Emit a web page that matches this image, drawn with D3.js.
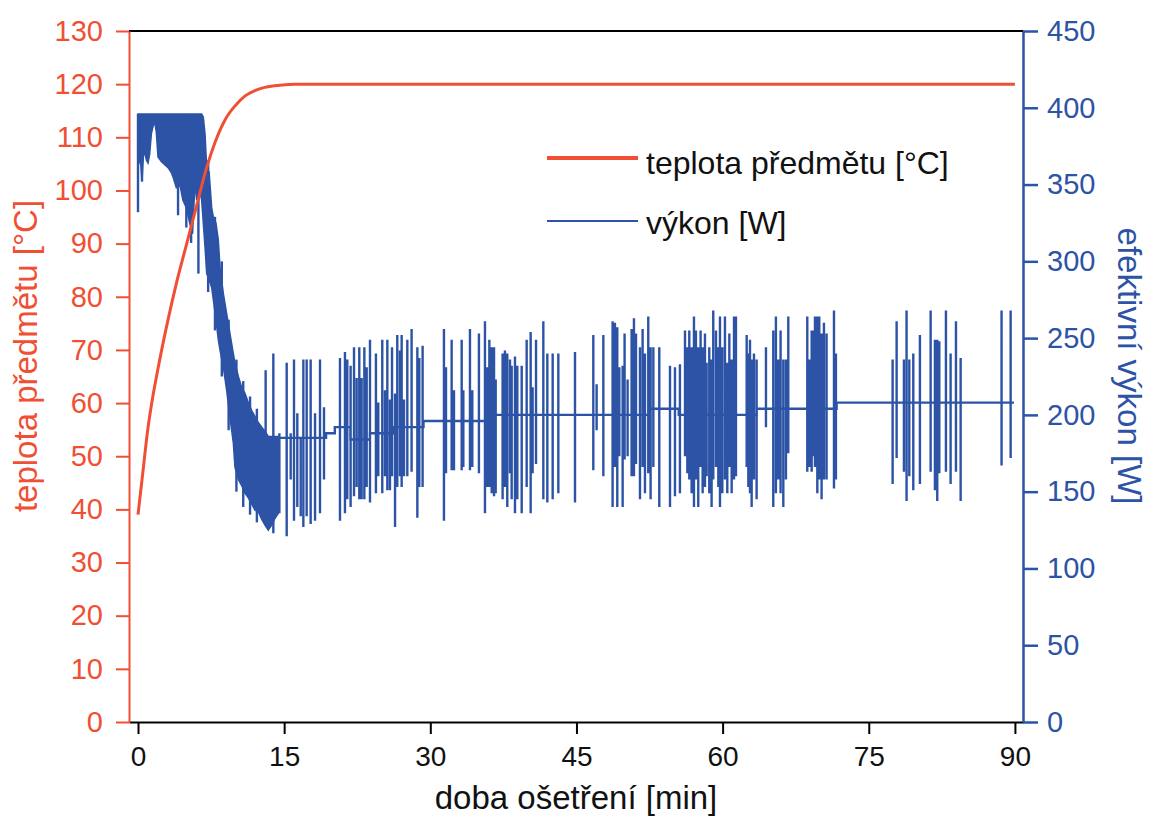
<!DOCTYPE html>
<html><head><meta charset="utf-8">
<script src="https://cdn.jsdelivr.net/npm/d3@7"></script>
<style>
body{margin:0;background:#fff;}
svg text{font-family:"Liberation Sans", Arial, Helvetica, sans-serif;}
</style></head><body>
<svg id="c" width="1153" height="819"></svg>
<script>
// ---------- data ----------
// x axis ticks
const xTicks = [0, 15, 30, 45, 60, 75, 90];
const yLTicks = [0,10,20,30,40,50,60,70,80,90,100,110,120,130];
const yRTicks = [0,50,100,150,200,250,300,350,400,450];

// temperature of the object [°C]
const tempT = [0, 0.5, 1.0, 1.5, 2.0, 3.0, 4.0, 5.0, 6.0, 7.0, 8.0, 9.0, 10.0, 11.0, 12.0, 13.0, 14.0, 16.0, 20.0, 90.0];
const tempV = [39, 47, 55, 61, 66, 75, 83, 90, 97, 104, 109.5, 113.5, 116, 117.8, 118.8, 119.4, 119.7, 120, 120, 120];

// power: dense oscillating band at the start (upper / lower envelope) [W]
const bandT  = [0,0.24,0.41,0.55,0.68,0.85,1.03,1.2,1.37,1.55,1.71,1.88,2.05,2.39,2.74,3.08,3.4,3.59,3.93,4.3,4.6,4.96,5.3,5.6,5.86,6.02,6.36,6.53,6.7,6.88,7.05,7.3,7.56,7.73,8.0,8.24,8.42,8.76,9.1,9.44,9.78,9.95,10.3,10.64,10.98,11.32,11.66,12.0,12.35,12.7,13.05,13.37,13.7,14.0,14.4];
const bandHi = [396,396,396,396,396,396,396,396,396,396,396,396,396,396,396,396,396,396,396,396,396,396,396,396,396,396,396,396,394,383,361,358,335,329,325,314,296,279,266,253,240,234,225,218,214,208,203,199,195,192,189,186,186,186,186];
const bandLo = [362,367,352,368,372,366,364,370,383,388,391,384,368,365,363,361,358,355,348,350,340,335,325,318,352,340,345,340,325,309,292,288,283,275,262,249,242,231,216,198,182,166,158,154,149,146,142,138,137,132,128,125,128,132,136];

// deep single lines inside the early band [t, hi, lo]
const earlyLines = [[0,396,332],[0.41,396,352],[4.11,396,330],[4.96,396,322],[5.45,396,312],[6.2,396,292],[7.2,366,280],[7.9,329,255],[8.6,300,225],[9.3,262,190],[10.1,236,150],[10.8,222,140],[11.5,212,135],[12.2,204,130]];

// base level steps of the regulated power [t start, W]
const stepT = [13.0, 19.3, 20.2, 21.8, 23.8, 26.2, 29.3, 35.8, 52.5, 55.5, 63.5, 71.7];
const stepV = [185, 188, 192, 184, 188, 192, 196, 200, 204, 200, 204, 208];
const powerEnd = 89.9;

// regulation spikes [t, hi, lo]
const powerSpikes = [
[13.1,229,130],[13.89,240,123],[14.51,188,136],[15.26,234,121],[15.67,188,158],[16.01,236,131],[16.35,201,140],[16.70,184,134],[16.97,236,127],[17.31,236,134],[17.72,236,129],[18.17,201,131],[18.68,236,136],[19.09,205,158],
[20.73,237,131],[21.24,241,136],[21.48,236,145],[21.82,232,140],[22.17,244,147],[22.44,224,153],[22.71,244,145],[22.95,224,145],[23.23,244,145],[23.47,231,153],[23.81,249,143],[24.42,240,149],[24.66,208,160],[25.07,249,149],[25.35,216,160],[25.59,249,151],[25.86,210,151],[26.07,244,160],[26.38,214,127],[26.61,252,153],[26.89,242,160],[27.06,252,153],[27.30,210,160],[27.64,249,160],[28.08,256,163],[28.67,244,133],[28.87,237,153],[29.21,245,153],
[31.40,256,131],[31.61,231,162],[32.19,249,164],[32.43,216,164],[33.22,249,164],[33.39,216,166],[34.07,256,164],[34.31,216,166],[34.99,253,162],[35.61,261,136],[35.85,231,153],[36.06,249,153],[36.30,244,149],[36.54,244,147],[36.71,223,149],[37.42,240,145],[37.66,242,153],[37.90,240,140],[38.18,236,162],[38.35,232,145],[38.69,238,136],[38.93,232,145],[39.38,232,136],[39.89,249,153],[40.30,254,136],[40.50,218,162],[40.85,249,168],[41.60,261,145],[42.01,240,143],[42.56,240,145],[43.14,240,149],[44.85,241,143],[46.73,252,164],[47.07,220,190],[47.76,252,160],[48.71,261,140],[48.95,260,166],[49.19,257,140],[49.40,231,173],[49.74,232,140],[49.94,253,171],[50.25,223,173],[50.66,256,160],[50.90,263,160],[51.11,253,168],[51.52,244,145],[51.79,256,166],[52.03,240,149],[52.37,264,162],[52.61,244,145],[52.89,244,166],[53.50,244,140],[54.60,232,140],[55.11,231,147],
[55.62,233,149],[56.14,255,173],[56.38,244,162],[56.58,255,158],[56.82,244,149],[57.06,264,140],[57.26,255,158],[57.50,244,140],[57.74,255,166],[57.95,244,149],[58.19,253,153],[58.36,234,160],[58.63,244,149],[58.87,236,140],[59.04,268,158],[59.32,255,166],[59.56,244,153],[59.73,264,140],[59.97,244,149],[60.24,264,158],[60.48,234,149],[60.69,253,166],[60.93,236,149],[61.17,264,158],[61.37,264,160],[62.47,252,166],[62.64,240,153],[62.81,249,149],[62.98,236,140],[63.22,240,158],[63.49,236,145],[64.45,244,192],[65.20,255,140],[65.47,264,149],[65.71,236,158],[65.95,255,149],[66.23,236,140],[66.50,236,158],[66.74,264,175],[68.69,264,163],[68.90,236,166],[69.14,255,163],[69.31,255,173],[69.48,264,166],[69.72,264,149],[69.92,264,158],[70.16,253,145],[70.40,260,158],[70.67,253,158],[71.43,268,152],[71.63,240,158],[77.45,236,155],[77.86,261,172],[78.61,236,163],[78.88,268,144],[79.16,236,160],[79.57,240,151],[80.25,252,155],[81.35,268,163],[81.79,249,151],[82.03,249,144],[82.24,248,162],[82.92,268,163],[83.40,240,155],[83.95,261,163],[84.43,237,144],[88.63,268,167],[89.56,268,172]
];

const legendLabels = ["teplota předmětu [°C]", "výkon [W]"];
const xTitle = "doba ošetření [min]";
const yLTitle = "teplota předmětu [°C]";
const yRTitle = "efektivní výkon [W]";

// ---------- drawing ----------
const RED = "#f04f33", BLUE = "#2c53a5";
const svg = d3.select("#c");
svg.append("rect").attr("width",1153).attr("height",819).attr("fill","#fff");
const M = {l:129, r:1023, t:31, b:722};
const x = d3.scaleLinear().domain([-0.924, 90.83]).range([M.l, M.r]);
const yL = d3.scaleLinear().domain([0,130]).range([M.b, M.t]);
const yR = d3.scaleLinear().domain([0,450]).range([M.b, M.t]);

// band
const band = bandT.map((t,i)=>({t, hi:bandHi[i], lo:bandLo[i]}));
svg.append("path").datum(band)
  .attr("d", d3.area().x(d=>x(d.t)).y0(d=>yR(d.lo)).y1(d=>yR(d.hi)))
  .attr("fill", BLUE).attr("stroke", BLUE).attr("stroke-width",1.5);

const seg = d3.line().x(d=>x(d[0])).y(d=>yR(d[1]));
earlyLines.forEach(s=>{
  svg.append("path").attr("d", seg([[s[0],s[1]],[s[0],s[2]]]))
    .attr("stroke", BLUE).attr("stroke-width",2.4).attr("fill","none");
});

// main power trace
const events = [];
stepT.forEach((t,i)=>{ if(i>0) events.push({t, kind:"step", v:stepV[i]}); });
powerSpikes.forEach(s=>events.push({t:s[0], kind:"spike", hi:s[1], lo:s[2]}));
events.sort((a,b)=>a.t-b.t);
let cur = stepV[0];
const pts = [[stepT[0], cur]];
events.forEach(e=>{
  if(e.kind==="step"){ pts.push([e.t,cur]); cur=e.v; pts.push([e.t,cur]); }
  else { pts.push([e.t,cur]); pts.push([e.t,e.hi]); pts.push([e.t,e.lo]); pts.push([e.t,cur]); }
});
pts.push([powerEnd, cur]);
svg.append("path").attr("d", seg(pts))
  .attr("stroke", BLUE).attr("stroke-width",2.4).attr("fill","none").attr("stroke-linejoin","miter").attr("stroke-miterlimit",2);

// temperature
const temp = tempT.map((t,i)=>[t, tempV[i]]);
svg.append("path").datum(temp)
  .attr("d", d3.line().x(d=>x(d[0])).y(d=>yL(d[1])).curve(d3.curveMonotoneX))
  .attr("stroke", RED).attr("stroke-width",3).attr("fill","none");

// frame top
svg.append("line").attr("x1",M.l).attr("x2",M.r).attr("y1",M.t).attr("y2",M.t)
  .attr("stroke","#000").attr("stroke-width",2);

// x axis
const xMinor = d3.range(7.5, 90, 15);
const gx = svg.append("g").attr("transform",`translate(0,${M.b})`);
gx.call(d3.axisBottom(x).tickValues(xMinor).tickSize(7).tickSizeOuter(0).tickFormat(""));
gx.call(d3.axisBottom(x).tickValues(xTicks).tickSize(12).tickSizeOuter(0).tickPadding(12));
gx.selectAll("path,line").attr("stroke","#000").attr("stroke-width",2);
gx.selectAll("text").attr("font-size",28).attr("fill","#111");

// left axis
const yLMinor = d3.range(5, 130, 10);
const gl = svg.append("g").attr("transform",`translate(${M.l},0)`);
gl.call(d3.axisLeft(yL).tickValues(yLMinor).tickSize(8).tickSizeOuter(0).tickFormat(""));
gl.call(d3.axisLeft(yL).tickValues(yLTicks).tickSize(13).tickSizeOuter(0).tickPadding(13));
gl.selectAll("path,line").attr("stroke",RED).attr("stroke-width",2);
gl.selectAll("text").attr("font-size",29).attr("fill",RED);

// right axis
const yRMinor = d3.range(25, 450, 50);
const gr = svg.append("g").attr("transform",`translate(${M.r},0)`);
gr.call(d3.axisRight(yR).tickValues(yRMinor).tickSize(10).tickSizeOuter(0).tickFormat(""));
gr.call(d3.axisRight(yR).tickValues(yRTicks).tickSize(15).tickSizeOuter(0).tickPadding(9));
gr.selectAll("path,line").attr("stroke",BLUE).attr("stroke-width",2.5);
gr.selectAll("text").attr("font-size",29).attr("fill",BLUE);

// titles
svg.append("text").attr("x",576).attr("y",809).attr("text-anchor","middle")
  .attr("font-size",33).attr("fill","#111").text(xTitle);
svg.append("text").attr("transform","translate(37,356) rotate(-90)").attr("text-anchor","middle")
  .attr("font-size",33).attr("fill",RED).text(yLTitle);
svg.append("text").attr("transform","translate(1118,366) rotate(90)").attr("text-anchor","middle")
  .attr("font-size",33).attr("fill",BLUE).text(yRTitle);

// legend
const lg = svg.append("g");
lg.append("line").attr("x1",547).attr("x2",638).attr("y1",158).attr("y2",158).attr("stroke",RED).attr("stroke-width",4);
lg.append("text").attr("x",646).attr("y",174).attr("font-size",32).attr("fill","#111").text(legendLabels[0]);
lg.append("line").attr("x1",547).attr("x2",638).attr("y1",221).attr("y2",221).attr("stroke",BLUE).attr("stroke-width",2);
lg.append("text").attr("x",646).attr("y",234).attr("font-size",32).attr("fill","#111").text(legendLabels[1]);
</script>
</body></html>
